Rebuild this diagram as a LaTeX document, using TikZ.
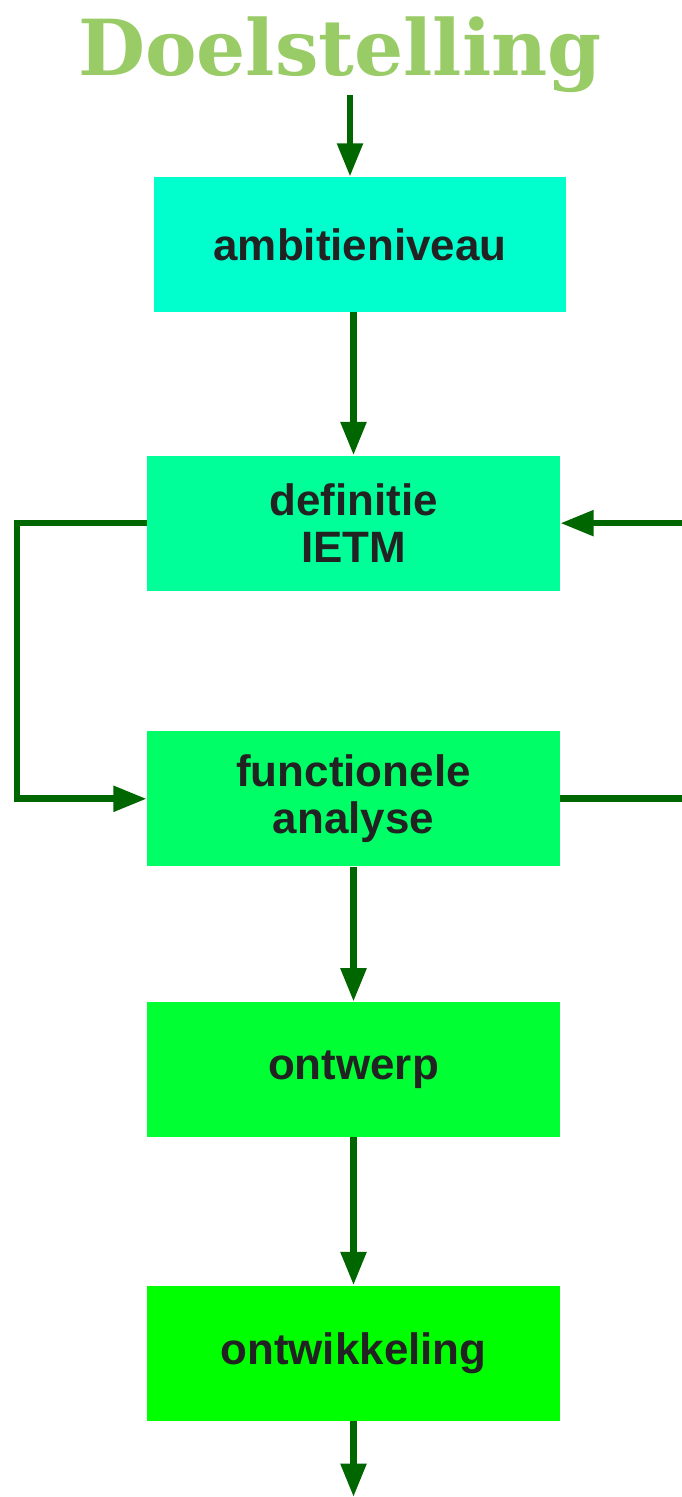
\documentclass[tikz,border=0pt]{standalone}
\usepackage{fontspec}
\newfontfamily\boxfont{Liberation Sans}
\newfontfamily\titlefont{DejaVu Serif}
\usetikzlibrary{positioning,arrows.meta}
\definecolor{titlegreen}{HTML}{99CC66}
\definecolor{linegreen}{HTML}{006600}
\definecolor{textgray}{HTML}{222222}
\definecolor{fillA}{HTML}{00FFCC}
\definecolor{fillB}{HTML}{00FF99}
\definecolor{fillC}{HTML}{00FF66}
\definecolor{fillD}{HTML}{00FF33}
\definecolor{fillE}{HTML}{00FF00}

\begin{document}
\begin{tikzpicture}
    [x=0.02cm, y=-0.02cm,
    stage/.style={inner sep=0pt, minimum width=8.26cm, minimum height=2.7cm,
        align=center, text=textgray, font=\boxfont\bfseries\fontsize{25}{27}\selectfont},
    flow/.style={draw=linegreen, line width=3.8pt,
        -{Triangle[length=19pt, width=14pt]}},
    link/.style={draw=linegreen, line width=3.8pt}]
    \useasboundingbox (0,0) rectangle (682,1497);

    \node[anchor=base, text=titlegreen, font=\titlefont\bfseries\fontsize{44}{48}\selectfont]
        (title) at (340,76) {Doelstelling};
    \coordinate (start) at (350,95);

    \node[stage, fill=fillA] (ambitie) at (360,244.5) {ambitieniveau};
    \node[stage, fill=fillB, below=2.86cm of ambitie, xshift=-0.13cm] (definitie) {definitie\\IETM};
    \node[stage, fill=fillC, below=2.8cm of definitie] (analyse) {functionele\\analyse};
    \node[stage, fill=fillD, below=2.7cm of analyse] (ontwerp) {ontwerp};
    \node[stage, fill=fillE, below=2.96cm of ontwerp] (ontwikkeling) {ontwikkeling};

    \coordinate (loopL) at (17,0);
    \coordinate (edgeR) at (682,0);
    \coordinate (end) at (350,1497);

    \draw[flow] (start) -- (start |- ambitie.north);
    \draw[flow] (ambitie.south -| definitie.north) -- (definitie.north);
    \draw[flow] (analyse.south) -- (ontwerp.north);
    \draw[flow] (ontwerp.south) -- (ontwikkeling.north);
    \draw[flow] (ontwikkeling.south) -- (ontwikkeling.south |- end);

    % loop on the left
    \draw[flow] (definitie.west) -- (loopL |- definitie.west) -- (loopL |- analyse.west) -- (analyse.west);
    % loop leaving on the right
    \draw[link] (analyse.east) -- (edgeR |- analyse.east);
    \draw[flow] (edgeR |- definitie.east) -- (definitie.east);
\end{tikzpicture}
\end{document}
